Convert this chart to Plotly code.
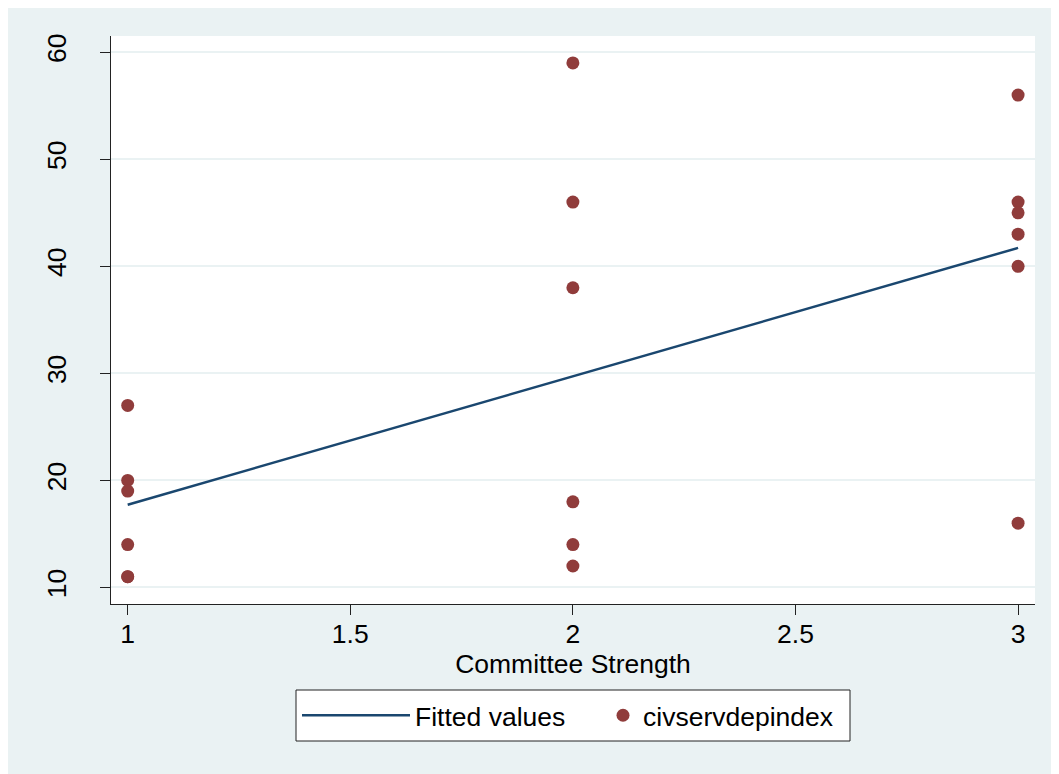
import numpy as np
import plotly.graph_objects as go

# Data
committee_strength = [1, 1, 1, 1, 1, 1,
                      2, 2, 2, 2, 2, 2,
                      3, 3, 3, 3, 3, 3]
civservdepindex = [27, 20, 19, 14, 11, 11,
                   59, 46, 38, 18, 14, 12,
                   56, 46, 45, 43, 40, 16]
x_ticks = [1, 1.5, 2, 2.5, 3]
x_tick_labels = ["1", "1.5", "2", "2.5", "3"]
y_ticks = [10, 20, 30, 40, 50, 60]
y_tick_labels = ["10", "20", "30", "40", "50", "60"]

# Linear fit (like Stata lfit)
slope, intercept = np.polyfit(committee_strength, civservdepindex, 1)
fit_x = [min(committee_strength), max(committee_strength)]
fit_y = [intercept + slope * v for v in fit_x]

# figure sits at page offset (8, 8) because of the default body margin
W, H = 1059, 774
ML, MT = 103, 28
PLOT_R, PLOT_B = 1027, 596
MR, MB = W - PLOT_R, H - PLOT_B
PW, PH = PLOT_R - ML, PLOT_B - MT

BG = "#EAF2F3"
FONT = "Arial, Liberation Sans, sans-serif"
FS = 26.5

def px_x(p):
    return (p - ML) / PW

def px_y(p):
    return (PLOT_B - p) / PH

fig = go.Figure()
fig.add_trace(go.Scatter(
    x=fit_x, y=fit_y, mode="lines", name="Fitted values",
    line=dict(color="#1A476F", width=2.5), legend="legend",
))
fig.add_trace(go.Scatter(
    x=committee_strength, y=civservdepindex, mode="markers", name="civservdepindex",
    marker=dict(color="#903C3B", size=13, line=dict(width=0)), legend="legend2",
))

leg_common = dict(
    orientation="h", yanchor="middle", y=px_y(707.5),
    bgcolor="rgba(0,0,0,0)", borderwidth=0,
    font=dict(family=FONT, size=FS, color="black"),
)

fig.update_layout(
    width=W, height=H,
    margin=dict(l=ML, r=MR, t=MT, b=MB, pad=0),
    paper_bgcolor=BG,
    plot_bgcolor="white",
    font=dict(family=FONT, size=FS, color="black"),
    showlegend=True,
    legend=dict(x=px_x(289), xanchor="left", itemwidth=108, **leg_common),
    legend2=dict(x=px_x(595), xanchor="left", itemwidth=30, **leg_common),
    shapes=[
        dict(type="rect", xref="paper", yref="paper",
             x0=px_x(288), x1=px_x(842), y0=px_y(733), y1=px_y(682),
             fillcolor="white", line=dict(color="#222", width=1), layer="below"),
    ],
    xaxis=dict(
        range=[0.9625, 3.038],
        tickmode="array", tickvals=x_ticks, ticktext=x_tick_labels,
        showgrid=False, zeroline=False,
        showline=True, linecolor="#222", linewidth=1,
        ticks="outside", ticklen=10, tickcolor="#222", tickwidth=1,
        tickfont=dict(family=FONT, size=FS, color="black"),
        ticklabelstandoff=-4,
        title=dict(text="Committee Strength", font=dict(family=FONT, size=FS, color="black"), standoff=2),
    ),
    yaxis=dict(
        range=[8.45, 61.52],
        tickmode="array", tickvals=y_ticks, ticktext=y_tick_labels,
        showgrid=True, gridcolor=BG, gridwidth=2, zeroline=False,
        showline=True, linecolor="#222", linewidth=1,
        ticks="outside", ticklen=10, tickcolor="#222", tickwidth=1,
        tickangle=-90,
        tickfont=dict(family=FONT, size=FS, color="black"),
        ticklabelstandoff=23,
    ),
)

fig.write_html("out.html")
